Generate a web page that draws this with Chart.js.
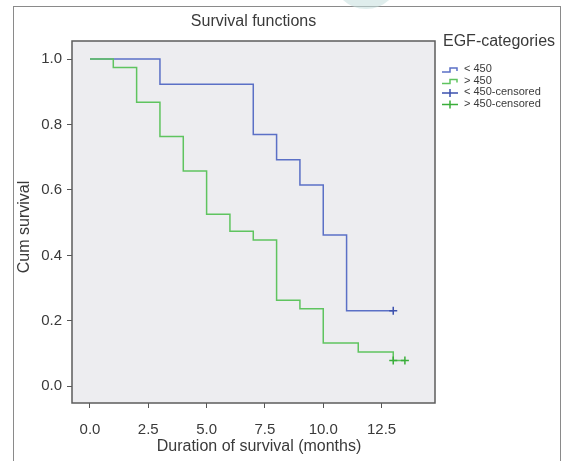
<!DOCTYPE html>
<html>
<head>
<meta charset="utf-8">
<script src="https://cdn.jsdelivr.net/npm/chart.js@4"></script>
<style>
html, body { margin: 0; padding: 0; background: #fff; }
</style>
</head>
<body>
<canvas id="myChart" width="562" height="461"></canvas>
<script>
// survival steps
const lowTimes = [0, 3, 7, 8, 9, 10, 11, 13];
const lowSurvival = [1, 0.923, 0.769, 0.692, 0.615, 0.462, 0.231, 0.231];
const lowCensoredTimes = [13];
const lowCensoredSurvival = [0.231];

const highTimes = [0, 1, 2, 3, 4, 5, 6, 7, 8, 9, 10, 11.5, 13, 13.5];
const highSurvival = [1, 0.974, 0.868, 0.763, 0.658, 0.526, 0.474, 0.447, 0.263, 0.237, 0.132, 0.105, 0.079, 0.079];
const highCensoredTimes = [13, 13.5];
const highCensoredSurvival = [0.079, 0.079];

const xTicks = [0, 2.5, 5, 7.5, 10, 12.5];
const yTicks = [0, 0.2, 0.4, 0.6, 0.8, 1.0];

const seriesLabels = ['< 450', '> 450', '< 450-censored', '> 450-censored'];

const blue = '#5b70c6';
const green = '#5fc45f';
const blueDark = '#3d52ae';
const greenDark = '#3aae3a';
const font = "'Liberation Sans', Arial, sans-serif";

function points(xs, ys) {
    return xs.map(function (x, i) { return { x: x, y: ys[i] }; });
}

const ctx = document.getElementById('myChart');

const decor = {
    id: 'decor',
    beforeDraw: function (chart) {
        const c = chart.ctx;
        const a = chart.chartArea;
        c.save();
        c.fillStyle = '#fff';
        c.fillRect(0, 0, chart.width, chart.height);
        // outer frame
        c.strokeStyle = '#8a8a8a';
        c.lineWidth = 1;
        c.strokeRect(13.5, 6.5, 547, 470);
        // plot background
        c.fillStyle = '#ededf0';
        c.fillRect(a.left, a.top, a.right - a.left, a.bottom - a.top);
        c.restore();
    },
    afterDraw: function (chart) {
        const c = chart.ctx;
        const a = chart.chartArea;
        c.save();
        // plot border
        c.strokeStyle = '#5c5c5c';
        c.lineWidth = 1.5;
        c.strokeRect(a.left, a.top, a.right - a.left, a.bottom - a.top);

        c.fillStyle = '#3a3a3a';
        c.textBaseline = 'middle';
        c.textAlign = 'center';
        c.font = '16px ' + font;
        c.fillText('Survival functions', (a.left + a.right) / 2, 22);
        c.fillText('Duration of survival (months)', 259, 447);

        c.save();
        c.translate(25, 227);
        c.rotate(-Math.PI / 2);
        c.fillText('Cum survival', 0, 0);
        c.restore();

        // legend
        c.textAlign = 'left';
        c.fillText('EGF-categories', 443, 42);
        c.font = '11px ' + font;
        const rows = [69, 80.5, 92, 103.5];
        const cols = [blue, green, blueDark, greenDark];
        rows.forEach(function (y, i) {
            c.strokeStyle = cols[i];
            c.lineWidth = 1.5;
            c.beginPath();
            if (i < 2) {
                c.moveTo(442, y + 3);
                c.lineTo(450, y + 3);
                c.lineTo(450, y - 1);
                c.lineTo(457, y - 1);
                c.lineTo(457, y + 2);
            } else {
                c.moveTo(442, y + 1);
                c.lineTo(458, y + 1);
                c.moveTo(450, y - 3);
                c.lineTo(450, y + 5);
            }
            c.stroke();
            c.fillStyle = '#3a3a3a';
            c.fillText(seriesLabels[i], 464, y);
        });

        // faint watermark arc at the top edge
        c.fillStyle = 'rgba(196, 222, 220, 0.55)';
        c.beginPath();
        c.arc(366, -25, 34, 0, Math.PI * 2);
        c.fill();
        c.restore();
    }
};

new Chart(ctx, {
    type: 'scatter',
    data: {
        datasets: [
            {
                label: seriesLabels[0],
                data: points(lowTimes, lowSurvival),
                showLine: true,
                stepped: 'before',
                borderColor: blue,
                borderWidth: 1.5,
                pointRadius: 0,
                order: 2
            },
            {
                label: seriesLabels[1],
                data: points(highTimes, highSurvival),
                showLine: true,
                stepped: 'before',
                borderColor: green,
                borderWidth: 1.5,
                pointRadius: 0,
                order: 1
            },
            {
                label: seriesLabels[2],
                data: points(lowCensoredTimes, lowCensoredSurvival),
                pointStyle: 'cross',
                pointRadius: 4,
                borderColor: blueDark,
                borderWidth: 1.5,
                order: 0
            },
            {
                label: seriesLabels[3],
                data: points(highCensoredTimes, highCensoredSurvival),
                pointStyle: 'cross',
                pointRadius: 4,
                borderColor: greenDark,
                borderWidth: 1.5,
                order: 0
            }
        ]
    },
    options: {
        responsive: false,
        animation: false,
        devicePixelRatio: 1,
        layout: { padding: { left: 12, top: 41, right: 127, bottom: 0 } },
        plugins: {
            legend: { display: false },
            tooltip: { enabled: false }
        },
        scales: {
            x: {
                type: 'linear',
                min: -0.77,
                max: 14.79,
                afterBuildTicks: function (s) { s.ticks = xTicks.map(function (v) { return { value: v }; }); },
                afterFit: function (s) { s.height = 58; },
                grid: { drawOnChartArea: false, tickLength: 5, color: '#555', lineWidth: 1 },
                border: { display: false },
                ticks: {
                    padding: 13,
                    color: '#3a3a3a',
                    font: { size: 15, family: font },
                    maxRotation: 0,
                    callback: function (v) { return v.toFixed(1); }
                }
            },
            y: {
                min: -0.051,
                max: 1.055,
                afterBuildTicks: function (s) { s.ticks = yTicks.map(function (v) { return { value: v }; }); },
                afterFit: function (s) { s.width = 60; },
                grid: { drawOnChartArea: false, tickLength: 5, color: '#555', lineWidth: 1 },
                border: { display: false },
                ticks: {
                    padding: 5,
                    color: '#3a3a3a',
                    font: { size: 15, family: font },
                    callback: function (v) { return v.toFixed(1); }
                }
            }
        }
    },
    plugins: [decor]
});
</script>
</body>
</html>
